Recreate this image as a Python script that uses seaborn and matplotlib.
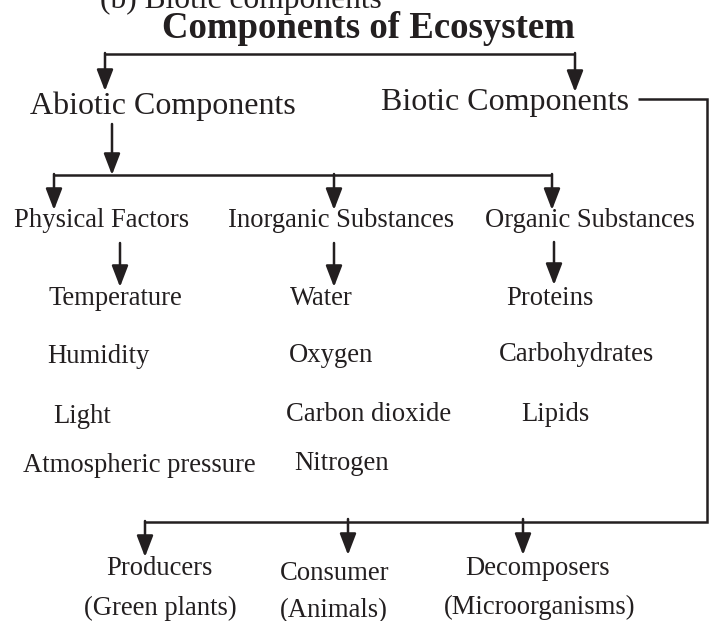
import matplotlib
matplotlib.use("Agg")
import matplotlib.pyplot as plt
import seaborn as sns

# node labels
cut_header = "(b) Biotic components"
title = "Components of Ecosystem"
top_nodes = ["Abiotic Components", "Biotic Components"]
abiotic_groups = ["Physical Factors", "Inorganic Substances", "Organic Substances"]
physical_factors = ["Temperature", "Humidity", "Light", "Atmospheric pressure"]
inorganic_substances = ["Water", "Oxygen", "Carbon dioxide", "Nitrogen"]
organic_substances = ["Proteins", "Carbohydrates", "Lipids"]
biotic_groups = ["Producers", "Consumer", "Decomposers"]
biotic_examples = ["(Green plants)", "(Animals)", "(Microorganisms)"]

# layout in pixel space (x centre, text baseline)
top_xy = [(163, 114), (505, 110)]
group_xy = [(102, 227), (341, 227), (590, 227)]
physical_xy = [(115, 305), (98, 363), (82, 423), (139, 472)]
inorganic_xy = [(321, 305), (331, 362), (369, 421), (342, 470)]
organic_xy = [(550, 305), (577, 361), (555, 421)]
biotic_xy = [(159, 575), (335, 580), (538, 575)]
example_xy = [(160, 615), (334, 617), (540, 614)]

sns.set_theme(style="white")
plt.rcParams['font.family'] = ['Liberation Serif', 'DejaVu Serif']
ink = '#231f20'

fig = plt.figure(figsize=(7.09, 6.21), dpi=100)
ax = fig.add_axes([0, 0, 1, 1])
ax.set_xlim(0, 709)
ax.set_ylim(621, 0)
ax.axis('off')


def label(txt, xy, size, **kw):
    ax.text(xy[0], xy[1], txt, ha='center', va='baseline', fontsize=size, color=ink, **kw)


def line(xs, ys):
    ax.plot(xs, ys, color=ink, lw=1.8, solid_capstyle='butt', solid_joinstyle='miter')


def arrow(x, y0, y1):
    ax.annotate('', xy=(x, y1), xytext=(x, y0),
                arrowprops=dict(arrowstyle='-|>,head_length=0.65,head_width=0.25',
                                mutation_scale=20, color=ink, lw=1.8,
                                shrinkA=0, shrinkB=0))


# texts
label(cut_header, (241, 8), 22.7)
label(title, (368, 38), 26.5, fontweight='bold')
for t, xy in zip(top_nodes, top_xy):
    label(t, xy, 23)
for t, xy in zip(abiotic_groups, group_xy):
    label(t, xy, 19.2)
for items, pos in [(physical_factors, physical_xy), (inorganic_substances, inorganic_xy),
                   (organic_substances, organic_xy)]:
    for t, xy in zip(items, pos):
        label(t, xy, 19.2)
for t, xy in zip(biotic_groups, biotic_xy):
    label(t, xy, 19.2)
for t, xy in zip(biotic_examples, example_xy):
    label(t, xy, 19.2)

# top split
line([105, 575], [54, 54])
arrow(105, 53, 91)
arrow(575, 53, 92)

# abiotic branch
arrow(112, 124, 175)
line([54, 552], [175, 175])
for x in [54, 334, 552]:
    arrow(x, 174, 210)
arrow(120, 243, 287)
arrow(334, 243, 287)
arrow(554, 242, 285)

# biotic branch
line([638, 707, 707, 144], [99, 99, 522, 522])
arrow(145, 521, 557)
arrow(348, 519, 555)
arrow(523, 519, 555)

fig.savefig('out.png', dpi=100)
